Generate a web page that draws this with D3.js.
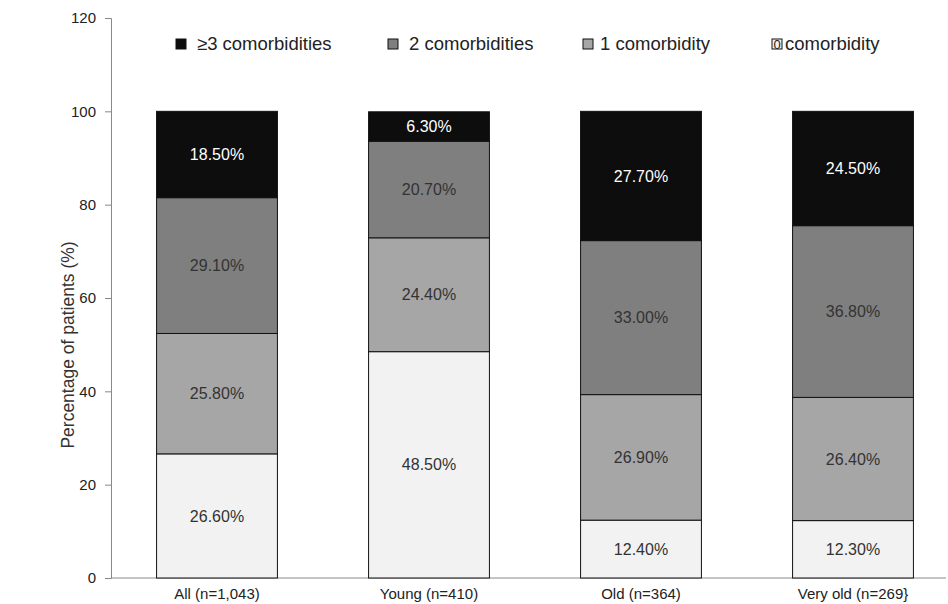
<!DOCTYPE html>
<html><head><meta charset="utf-8">
<script src="https://cdn.jsdelivr.net/npm/d3@7"></script>
<style>body{margin:0;background:#fff;}svg{display:block;font-family:"Liberation Sans",Arial,sans-serif;}</style>
</head><body><svg id="c" width="948" height="604"></svg>
<script>
const categories = ["All (n=1,043)", "Young (n=410)", "Old (n=364)", "Very old (n=269}"];
const seriesNames = ["0 comorbidity", "1 comorbidity", "2 comorbidities", "≥3 comorbidities"];
const zero = [26.6, 48.5, 12.4, 12.3];
const one = [25.8, 24.4, 26.9, 26.4];
const two = [29.1, 20.7, 33.0, 36.8];
const three = [18.5, 6.3, 27.7, 24.5];
const yTicks = [0, 20, 40, 60, 80, 100, 120];
const colors = ["#f2f2f2", "#a6a6a6", "#7f7f7f", "#0d0d0d"];
const textColors = ["#333", "#333", "#333", "#fff"];

const svg = d3.select("#c");
const x = d3.scaleBand().domain(categories).range([111, 959]).paddingInner(0.43).paddingOuter(0.215);
const y = d3.scaleLinear().domain([0, 120]).range([578, 18]);

const rows = categories.map((c, i) => ({cat: c, s0: zero[i], s1: one[i], s2: two[i], s3: three[i]}));
const stack = d3.stack().keys(["s0", "s1", "s2", "s3"])(rows);

// axes
const ya = svg.append("g").attr("transform", "translate(111,0)")
  .call(d3.axisLeft(y).tickValues(yTicks).tickSize(6).tickPadding(9));
ya.select(".domain").attr("stroke", "#888");
ya.selectAll(".tick line").attr("stroke", "#888");
ya.selectAll(".tick text").attr("font-size", 15).attr("fill", "#222");

svg.append("line").attr("x1", 111).attr("x2", 946).attr("y1", y(0)).attr("y2", y(0)).attr("stroke", "#888");

const xa = svg.append("g").attr("transform", `translate(0,${y(0)})`)
  .call(d3.axisBottom(x).tickSize(0).tickPadding(10));
xa.select(".domain").remove();
xa.selectAll(".tick text").attr("font-size", 15).attr("fill", "#222");

svg.append("text").attr("transform", "translate(74,345) rotate(-90)")
  .attr("text-anchor", "middle").attr("font-size", 17.5).attr("fill", "#333")
  .text("Percentage of patients (%)");

// bars
stack.forEach((layer, li) => {
  const g = svg.append("g");
  g.selectAll("rect").data(layer).join("rect")
    .attr("x", d => x(d.data.cat)).attr("width", x.bandwidth())
    .attr("y", d => y(d[1])).attr("height", d => y(d[0]) - y(d[1]))
    .attr("fill", colors[li]).attr("stroke", "#111").attr("stroke-width", 1);
  g.selectAll("text").data(layer).join("text")
    .attr("x", d => x(d.data.cat) + x.bandwidth() / 2)
    .attr("y", d => (y(d[0]) + y(d[1])) / 2)
    .attr("dy", "0.35em").attr("text-anchor", "middle")
    .attr("font-size", 16).attr("fill", textColors[li])
    .text(d => (d[1] - d[0]).toFixed(2) + "%");
});

// legend
const legendOrder = [3, 2, 1, 0];
const legendX = [176, 388, 583, 772];
legendOrder.forEach((si, k) => {
  const lg = svg.append("g").attr("transform", `translate(${legendX[k]},39)`);
  lg.append("rect").attr("width", 10).attr("height", 10).attr("fill", colors[si]).attr("stroke", "#111");
  if (si === 0) {
    lg.append("text").attr("x", 5).attr("y", 5).attr("dy", "0.35em").attr("text-anchor", "middle")
      .attr("font-size", 13).attr("fill", "#222").text("0");
    lg.append("text").attr("x", 13).attr("y", 5).attr("dy", "0.35em")
      .attr("font-size", 18.5).attr("fill", "#222").text("comorbidity");
  } else {
    lg.append("text").attr("x", si === 1 ? 17 : (si === 2 ? 21 : 21)).attr("y", 5).attr("dy", "0.35em")
      .attr("font-size", 18.5).attr("fill", "#222").text(seriesNames[si]);
  }
});
</script></body></html>
